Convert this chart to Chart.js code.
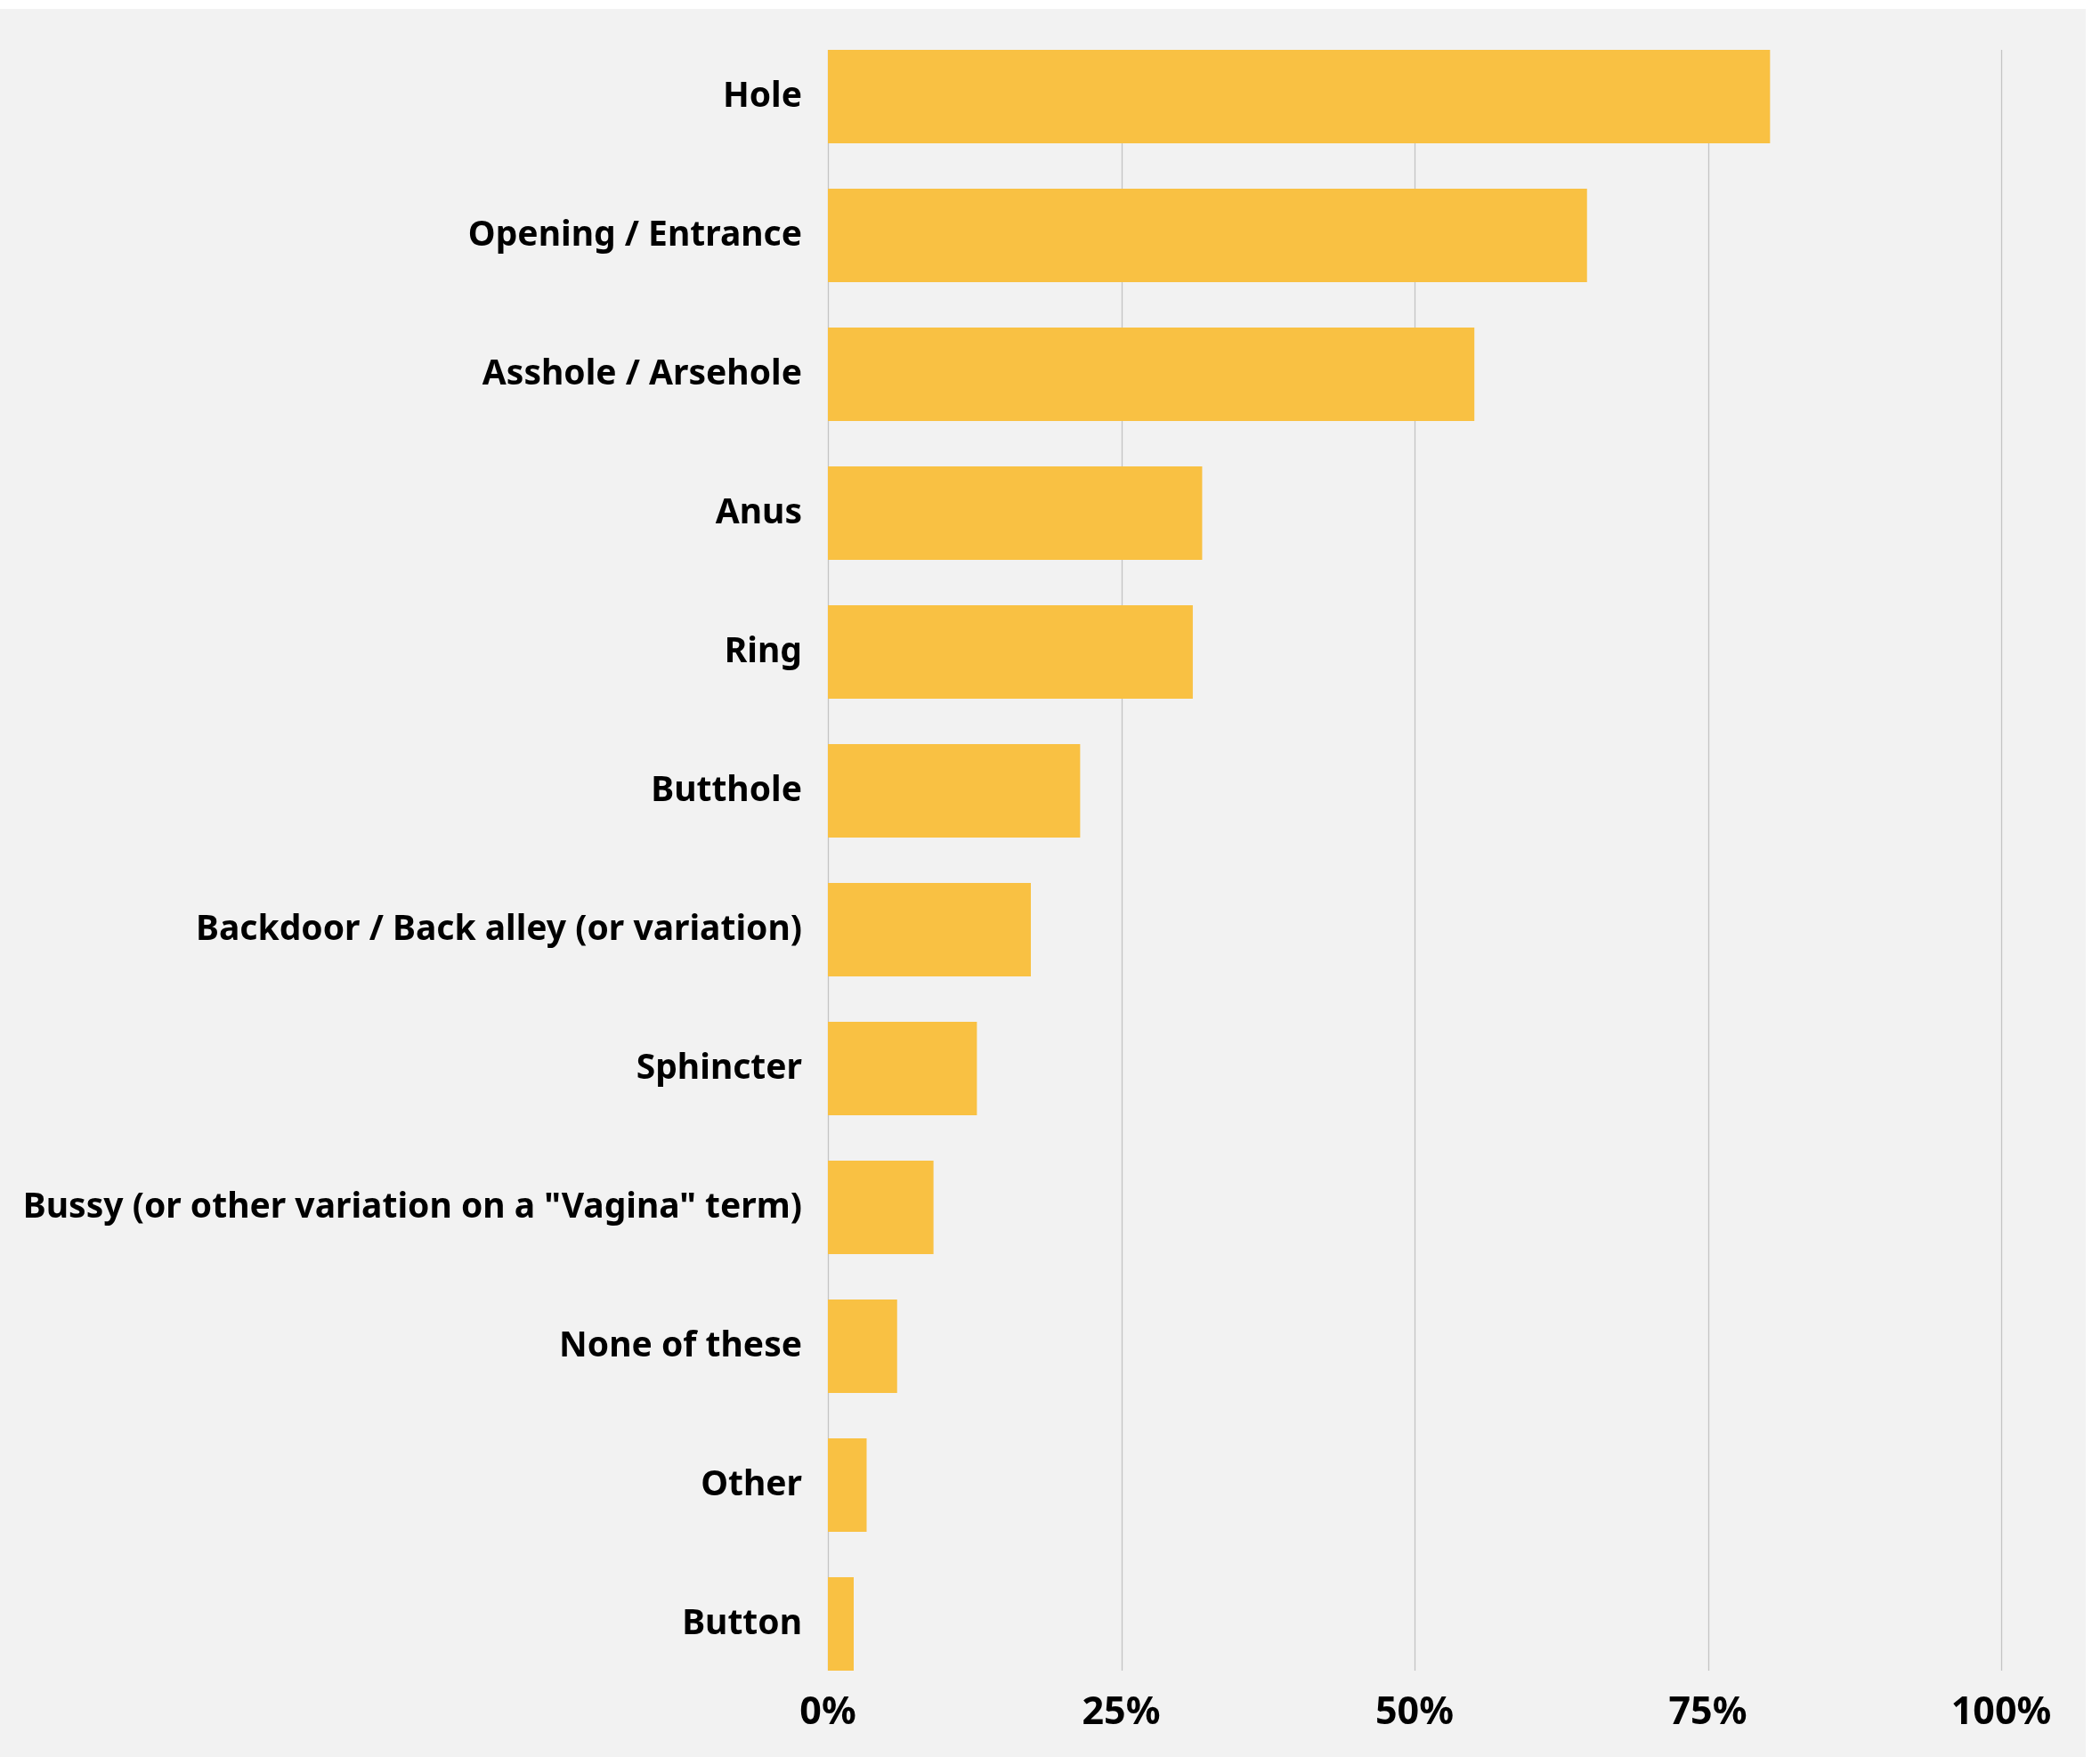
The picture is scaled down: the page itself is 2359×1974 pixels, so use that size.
<!DOCTYPE html>
<html lang="en">
<head>
    <meta charset="UTF-8">
    <title>Terms used</title>
    <script src="https://cdn.jsdelivr.net/npm/chart.js"></script>
    <style>
        html, body {
            margin: 0;
            padding: 0;
            background: #ffffff;
        }
        .chart-box {
            position: absolute;
            left: 0;
            top: 10px;
            width: 2343px;
            height: 1964px;
            background: #f2f2f2;
        }
    </style>
</head>
<body>
    <div class="chart-box">
        <canvas id="termsChart" width="2343" height="1964"></canvas>
    </div>

    <script>
        // Survey answers (percent of respondents)
        const categories = [
            "Hole",
            "Opening / Entrance",
            "Asshole / Arsehole",
            "Anus",
            "Ring",
            "Butthole",
            "Backdoor / Back alley (or variation)",
            "Sphincter",
            "Bussy (or other variation on a \"Vagina\" term)",
            "None of these",
            "Other",
            "Button"
        ];
        const percentages = [80.3, 64.7, 55.1, 31.9, 31.1, 21.5, 17.3, 12.7, 9.0, 5.9, 3.3, 2.2];
        const xTicks = [0, 25, 50, 75, 100];

        // Grid lines only span from the first bar top to the last bar bottom
        const barGrid = {
            id: "barGrid",
            beforeDatasetsDraw(chart) {
                const bars = chart.getDatasetMeta(0).data;
                const first = bars[0], last = bars[bars.length - 1];
                const top = first.y - first.height / 2;
                const bottom = last.y + last.height / 2;
                const ctx = chart.ctx;
                ctx.save();
                ctx.strokeStyle = "#c4c4c4";
                ctx.lineWidth = 1.3;
                xTicks.forEach(t => {
                    const x = Math.round(chart.scales.x.getPixelForValue(t)) + 0.5;
                    ctx.beginPath();
                    ctx.moveTo(x, top);
                    ctx.lineTo(x, bottom);
                    ctx.stroke();
                });
                ctx.restore();
            }
        };

        new Chart(document.getElementById("termsChart"), {
            type: "bar",
            data: {
                labels: categories,
                datasets: [{
                    data: percentages,
                    backgroundColor: "#f9c143",
                    categoryPercentage: 1.0,
                    barPercentage: 0.673
                }]
            },
            options: {
                indexAxis: "y",
                responsive: false,
                animation: false,
                layout: {
                    padding: { top: 20.5, right: 95, bottom: 0, left: 0 }
                },
                plugins: {
                    legend: { display: false },
                    tooltip: { enabled: false }
                },
                scales: {
                    x: {
                        min: 0,
                        max: 100,
                        afterBuildTicks(scale) {
                            scale.ticks = xTicks.map(v => ({ value: v }));
                        },
                        afterFit(scale) {
                            scale.height = 71.5;
                            scale.paddingLeft = 0;
                            scale.paddingRight = 0;
                        },
                        grid: { display: false },
                        border: { display: false },
                        ticks: {
                            padding: -12,
                            color: "#000000",
                            font: { family: "Noto Sans", size: 43, weight: "bold" },
                            callback: v => v + "%"
                        }
                    },
                    y: {
                        afterFit(scale) {
                            scale.width = 930;
                            scale.paddingTop = 0;
                            scale.paddingBottom = 0;
                        },
                        grid: { display: false },
                        border: { display: false },
                        ticks: {
                            padding: 21,
                            color: "#000000",
                            font: { family: "Noto Sans", size: 39, weight: "bold" }
                        }
                    }
                }
            },
            plugins: [barGrid]
        });
    </script>
</body>
</html>
